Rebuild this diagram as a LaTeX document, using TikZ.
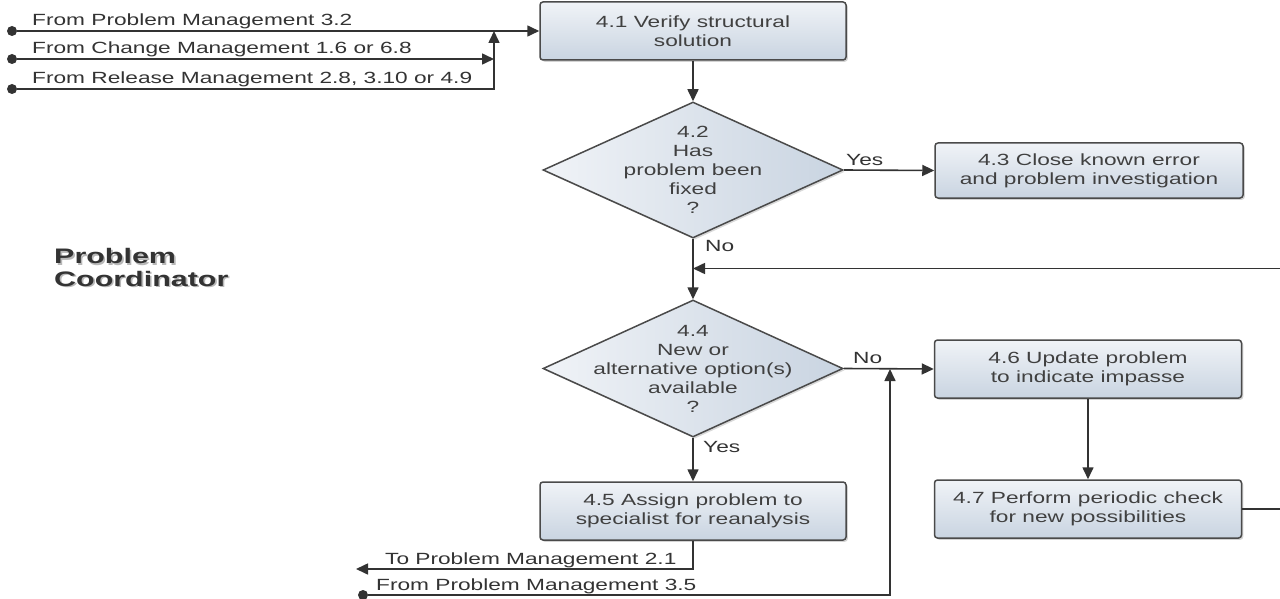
\documentclass[tikz,border=0pt]{standalone}
\usepackage{fontspec}
\usetikzlibrary{arrows.meta,shapes.geometric,shadows}
\newfontfamily\flowfont[FakeStretch=1.40]{Liberation Sans}
\newfontfamily\rolefont[FakeStretch=1.45]{Liberation Sans}
\definecolor{ink}{HTML}{333333}
\definecolor{txt}{HTML}{404040}
\definecolor{edge}{HTML}{4A4A4A}
\definecolor{filla}{HTML}{F0F3F7}
\definecolor{fillb}{HTML}{C9D4E1}
% a word with a soft grey copy offset below right
\newcommand\castword[1]{\leavevmode\rlap{\kern1.6pt\raisebox{-1.6pt}{\textcolor{black!28}{#1}}}#1}
\begin{document}
\begin{tikzpicture}[x=1pt,y=-1pt,
  font=\flowfont\fontsize{16.2}{19}\selectfont,
  flow/.style={draw=ink, line width=1.6pt, -{Triangle[length=12pt,width=11pt]}},
  plain/.style={draw=ink, line width=1.6pt},
  task/.style={rectangle, rounded corners=3pt, draw=edge, line width=1.5pt,
    top color=filla, bottom color=fillb, text=txt, align=center,
    minimum width=306pt, minimum height=58pt, inner sep=0pt,
    drop shadow={shadow xshift=1.8pt, shadow yshift=-1.8pt, opacity=0.35}},
  decision/.style={diamond, draw=edge, line width=1.5pt,
    left color=filla, right color=fillb, inner sep=0pt,
    minimum width=300pt, minimum height=136pt,
    drop shadow={shadow xshift=1.8pt, shadow yshift=-1.8pt, opacity=0.3}},
  dtext/.style={text=txt, align=center, inner sep=0pt},
  dot/.style={circle, fill=ink, inner sep=0pt, minimum size=10pt},
  lbl/.style={text=ink, inner sep=0pt, anchor=base west},
  role/.style={font=\rolefont\bfseries\fontsize{21}{22.5}\selectfont,
    anchor=base west, inner sep=0pt, align=left, text=ink},
]
\useasboundingbox (0,0) rectangle (1280,599);
\clip (0,0) rectangle (1280,599);

% role heading
\node[role] (role) at (54,286) {\castword{Problem}\\\castword{Coordinator}};

% process steps
\node[task] (t41) at (693,31) {4.1 Verify structural\\solution};
\node[decision] (d42) at (693,170) {};
\node[dtext] (d42t) at (693,170) {4.2\\Has\\problem been\\fixed\\?};
\node[task, minimum width=308pt, minimum height=55pt] (t43) at (1089,170.5)
  {4.3 Close known error\\and problem investigation};
\node[decision, minimum height=137pt] (d44) at (693,368.5) {};
\node[dtext] (d44t) at (693,368.5) {4.4\\New or\\alternative option(s)\\available\\?};
\node[task] (t45) at (693,511) {4.5 Assign problem to\\specialist for reanalysis};
\node[task, minimum width=307pt] (t46) at (1088,369) {4.6 Update problem\\to indicate impasse};
\node[task, minimum width=307pt] (t47) at (1088,509) {4.7 Perform periodic check\\for new possibilities};

% incoming connectors
\node[dot] (s1) at (12,31) {};
\node[dot] (s2) at (12,59) {};
\node[dot] (s3) at (12,89) {};
\coordinate (j1) at (494,31);
\coordinate (j2) at (494,59);
\coordinate (j3) at (494,89);
\node[lbl] (l1) at (32,26) {From Problem Management 3.2};
\node[lbl] (l2) at (32,54) {From Change Management 1.6 or 6.8};
\node[lbl] (l3) at (32,84) {From Release Management 2.8, 3.10 or 4.9};
\draw[flow] (s1) -- (t41.west);
\draw[flow] (s2) -- (j2);
\draw[flow] (s3) -- (j3) -- (j1);

% main flow
\draw[flow] (t41) -- (d42);
\draw[flow] (d42.east) -- (t43.west);
\node[lbl] (yes1) at (846,165) {Yes};
\draw[flow] (d42.south) -- (d44.north);
\node[lbl] (no1) at (705,251) {No};

% loop back from periodic check
\coordinate (r1) at (1284,509);
\coordinate (r2) at (1284,268.5);
\coordinate (m1) at (693,268.5);
\draw[plain] (t47.east) -- (r1) -- (r2);
\draw[flow] (r2) -- (m1);

\draw[flow] (d44.east) -- (t46.west);
\node[lbl] (no2) at (853,363) {No};
\draw[flow] (d44.south) -- (t45.north);
\node[lbl] (yes2) at (703,452) {Yes};
\draw[flow] (t46) -- (t47);

% outgoing and late incoming connectors
\coordinate (o1) at (693,569);
\coordinate (o2) at (356,569);
\draw[flow] (t45.south) -- (o1) -- (o2);
\node[lbl] (l4) at (385,564) {To Problem Management 2.1};
\node[dot] (s4) at (363,595) {};
\coordinate (b1) at (890,595);
\coordinate (b2) at (890,369);
\draw[flow] (s4) -- (b1) -- (b2);
\node[lbl] (l5) at (376,590) {From Problem Management 3.5};
\end{tikzpicture}
\end{document}
